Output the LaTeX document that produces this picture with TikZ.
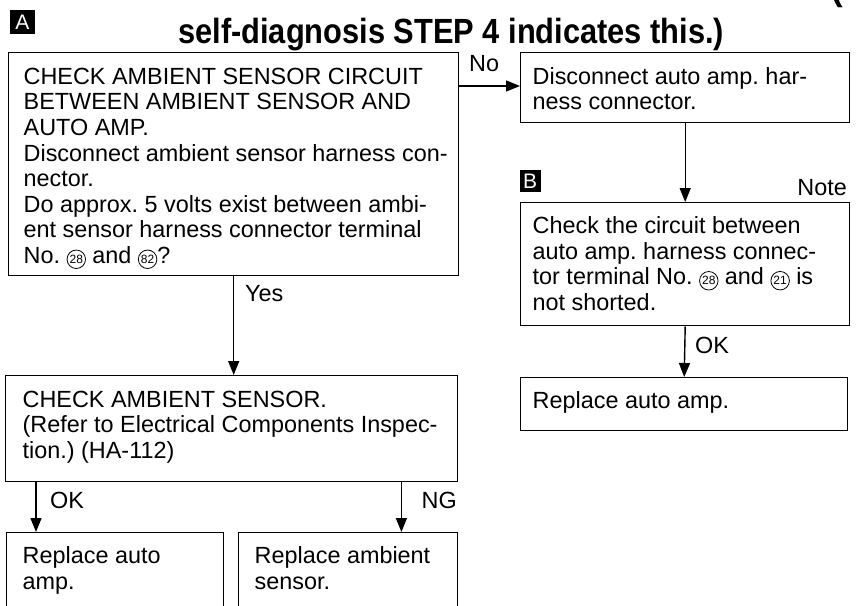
\documentclass[tikz,border=0pt]{standalone}
\usepackage{fontspec}
\setmainfont{Liberation Sans}
\usetikzlibrary{arrows.meta,calc}
\frenchspacing
\newcommand\bodyfont{\fontsize{23.4}{25.6}\selectfont}
\newcommand\titlefont{\bfseries\fontsize{35}{40}\selectfont}
\newcommand\cnum[1]{\tikz[baseline=(cn.base)]\node[draw,circle,line width=0.8pt,inner sep=0pt,minimum size=18.5pt,font=\fontsize{12}{12}\selectfont](cn){#1};}
% width, height, left pad, first-baseline, text
\newcommand\bx[5]{\parbox[c][#2pt][t]{#1pt}{\bodyfont\frenchspacing\parindent=0pt\leftskip=#3pt\rightskip=0pt plus 1fil\rule{0pt}{#4pt}#5}}
\begin{document}
\begin{tikzpicture}[x=1pt,y=-1pt,
  box/.style={draw,line width=1.4pt,anchor=north west,inner sep=0pt},
  arr/.style={line width=1.4pt,-{Triangle[width=11pt,length=14pt]}},
  lbl/.style={inner sep=0pt,font=\bodyfont},
  tagbox/.style={fill=black,text=white,inner sep=0pt,font=\fontsize{21}{21}\selectfont}]
\useasboundingbox (0,0) rectangle (856,605);
% title
\node[anchor=base west,inner sep=0pt] (paren) at (831,1) {\titlefont (};
\node[anchor=base west,inner sep=0pt] (title) at (178,43) {\titlefont\scalebox{0.88}[1]{self-diagnosis STEP 4 indicates this.)}};
\node[tagbox,minimum width=25pt,minimum height=24pt] (mA) at (22.5,22) {A};
% boxes
\node[box] (c1) at (8,52) {\bx{450}{223}{15}{31.5}{CHECK AMBIENT SENSOR CIRCUIT\\BETWEEN AMBIENT SENSOR AND\\AUTO AMP.\\Disconnect ambient sensor harness con-\\nector.\\Do approx. 5 volts exist between ambi-\\ent sensor harness connector terminal\\No. \cnum{28} and \cnum{82}?}};
\node[box] (rb1) at (520,52) {\bx{329}{70}{12}{31.5}{Disconnect auto amp. har-\\ness connector.}};
\node[tagbox,minimum width=21pt,minimum height=22pt] (mB) at (530,181) {B};
\node[lbl,anchor=base east] (note) at (847,195) {Note};
\node[box] (nb) at (520,202) {\bx{329}{123}{12}{31}{Check the circuit between\\auto amp. harness connec-\\tor terminal No. \cnum{28} and \cnum{21} is\\not shorted.}};
\node[box] (rep) at (520,377) {\bx{327}{53}{12}{31}{Replace auto amp.}};
\node[box] (c2) at (5,375) {\bx{452}{106}{17}{31.5}{CHECK AMBIENT SENSOR.\\(Refer to Electrical Components Inspec-\\tion.) (HA-112)}};
\node[box] (b1) at (6,532) {\bx{217}{100}{16}{31}{Replace auto\\amp.}};
\node[box] (b2) at (238,532) {\bx{219}{100}{16}{31}{Replace ambient\\sensor.}};
% connectors
\draw[arr] ([yshift=-34pt]c1.north east) -- ([yshift=-34pt]c1.north east -| rb1.west);
\node[lbl,anchor=base west] (no) at (469,71) {No};
\draw[arr] (c1.south) -- (c1.south |- c2.north);
\node[lbl,anchor=base west] (yes) at (245,301) {Yes};
\draw[arr] (rb1.south) -- (nb.north);
\draw[arr] (nb.south) -- (rep.north);
\node[lbl,anchor=base west] (ok1) at (695,353) {OK};
\draw[arr] ([xshift=31pt]c2.south west) -- ([xshift=31pt]c2.south west |- b1.north);
\node[lbl,anchor=base west] (ok2) at (50,508) {OK};
\draw[arr] ([xshift=-57pt]c2.south east) -- ([xshift=-57pt]c2.south east |- b2.north);
\node[lbl,anchor=base east] (ng) at (457,508) {NG};
\end{tikzpicture}
\end{document}
